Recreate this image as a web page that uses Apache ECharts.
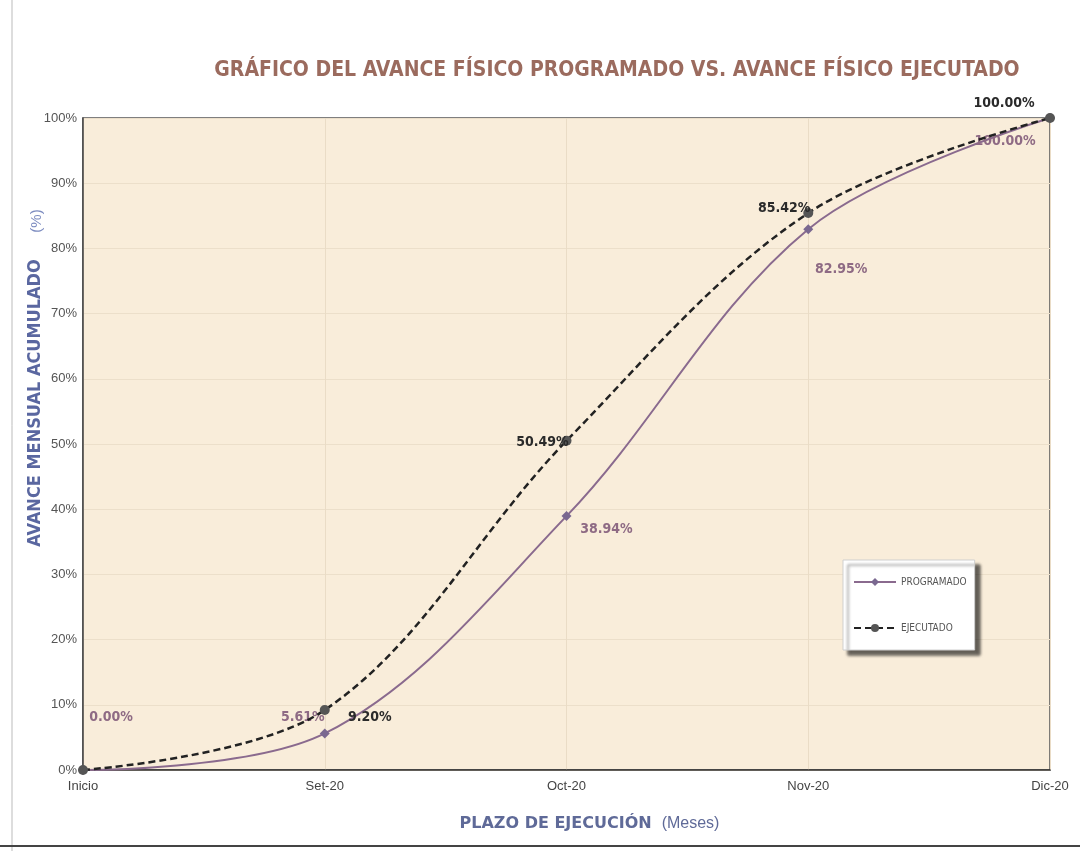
<!DOCTYPE html>
<html>
<head>
<meta charset="utf-8">
<script src="https://cdn.jsdelivr.net/npm/echarts@6/dist/echarts.min.js"></script>
<style>
  html, body { margin: 0; padding: 0; background: #ffffff; }
  #chart { width: 1080px; height: 851px; }
</style>
</head>
<body>
<div id="chart"></div>
<script>
// datos del grafico
var meses = ['Inicio', 'Set-20', 'Oct-20', 'Nov-20', 'Dic-20'];
var programado = [0.00, 5.61, 38.94, 82.95, 100.00];
var ejecutado = [null, 9.20, 50.49, 85.42, 100.00];
var ejecutadoLinea = [0.00, 9.20, 50.49, 85.42, 100.00];
var yTicks = [0, 10, 20, 30, 40, 50, 60, 70, 80, 90, 100];

var narrow = '"Liberation Sans Narrow", "DejaVu Sans Condensed", "Arial Narrow", sans-serif';

// desplazamiento de etiquetas (px) por punto
var offProg = [[28, -36], [-22, 1], [40, 30], [33, 57], [-45, 40]];
var offEjec = [[0, 0], [45, 24], [-24, 19], [-24, 12], [-46, 2]];

function pct(v) { return v.toFixed(2) + '%'; }

var progData = programado.map(function (v, i) {
  return {
    value: v,
    label: { show: true, offset: offProg[i], formatter: pct(v) }
  };
});
var ejecData = ejecutadoLinea.map(function (v, i) {
  return {
    value: v,
    label: { show: ejecutado[i] !== null, offset: offEjec[i], formatter: pct(v) }
  };
});

var chart = echarts.init(document.getElementById('chart'));
chart.setOption({
  backgroundColor: '#ffffff',
  animation: false,
  title: {
    text: 'GRÁFICO DEL AVANCE FÍSICO PROGRAMADO VS. AVANCE FÍSICO EJECUTADO',
    left: 612, top: 55, textAlign: 'center',
    textStyle: { fontFamily: narrow, fontWeight: 'bold', fontSize: 21, color: '#9b6b5e' }
  },
  legend: {
    orient: 'vertical',
    left: 843, top: 560,
    padding: [17, 8, 17, 10],
    itemGap: 36,
    itemWidth: 42, itemHeight: 10,
    backgroundColor: '#ffffff',
    borderColor: '#cfcfcf', borderWidth: 1,
    shadowColor: 'rgba(0,0,0,0.6)', shadowBlur: 3, shadowOffsetX: 5, shadowOffsetY: 5,
    textStyle: { fontFamily: narrow, fontSize: 10, color: '#555' },
    data: ['PROGRAMADO', 'EJECUTADO']
  },
  grid: {
    left: 83, right: 30, top: 118, bottom: 81,
    show: true, backgroundColor: '#f9edda', borderColor: '#555', borderWidth: 1.5
  },
  xAxis: {
    type: 'category', data: meses, boundaryGap: false,
    name: '{a|PLAZO DE EJECUCIÓN}   {b|(Meses)}',
    nameLocation: 'middle', nameGap: 46,
    nameTextStyle: {
      padding: [0, 0, 0, 46],
      rich: {
        a: { fontFamily: 'DejaVu Sans', fontWeight: 'bold', fontSize: 16, color: '#5f6a98' },
        b: { fontFamily: 'Liberation Sans', fontSize: 16, color: '#5f6a98' }
      }
    },
    axisLine: { lineStyle: { color: '#333', width: 1.5 } },
    axisTick: { show: false },
    axisLabel: { fontFamily: 'Liberation Sans', fontSize: 13, color: '#444', margin: 10 },
    splitLine: { show: true, lineStyle: { color: '#eadcc6', width: 1 } }
  },
  yAxis: {
    type: 'value', min: yTicks[0], max: yTicks[yTicks.length - 1], interval: 10,
    axisLine: { show: true, lineStyle: { color: '#444', width: 1.5 } },
    axisTick: { show: false },
    axisLabel: { formatter: '{value}%', fontFamily: 'Liberation Sans', fontSize: 13, color: '#555', margin: 6 },
    splitLine: { show: true, lineStyle: { color: '#ecdfca', width: 1 } }
  },
  series: [
    {
      name: 'PROGRAMADO', type: 'line', smooth: 0.35,
      data: progData,
      symbol: 'diamond', symbolSize: 10,
      lineStyle: { color: '#8a6a8e', width: 2 },
      itemStyle: { color: '#7a6890' },
      label: { fontFamily: narrow, fontWeight: 'bold', fontSize: 14, color: '#8e6a84' },
      z: 3
    },
    {
      name: 'EJECUTADO', type: 'line', smooth: 0.35,
      data: ejecData,
      symbol: 'circle', symbolSize: 10,
      lineStyle: { color: '#222', width: 2.5, type: [7, 4] },
      itemStyle: { color: '#555' },
      label: { fontFamily: narrow, fontWeight: 'bold', fontSize: 14, color: '#2a2a2a' },
      z: 4
    }
  ],
  graphic: [
    { type: 'line', shape: { x1: 12, y1: 0, x2: 12, y2: 851 }, style: { stroke: '#bbb', lineWidth: 1 } },
    { type: 'line', shape: { x1: 0, y1: 846, x2: 1080, y2: 846 }, style: { stroke: '#444', lineWidth: 2 } },
    {
      type: 'text', x: 35, y: 403, rotation: Math.PI / 2,
      style: {
        text: 'AVANCE MENSUAL ACUMULADO', align: 'center', verticalAlign: 'middle',
        font: 'bold 18px ' + narrow, fill: '#5a67a0'
      }
    },
    {
      type: 'text', x: 37, y: 221, rotation: Math.PI / 2,
      style: {
        text: '(%)', align: 'center', verticalAlign: 'middle',
        font: '15px "Liberation Sans", sans-serif', fill: '#7d8cc0'
      }
    }
  ]
});
</script>
</body>
</html>
